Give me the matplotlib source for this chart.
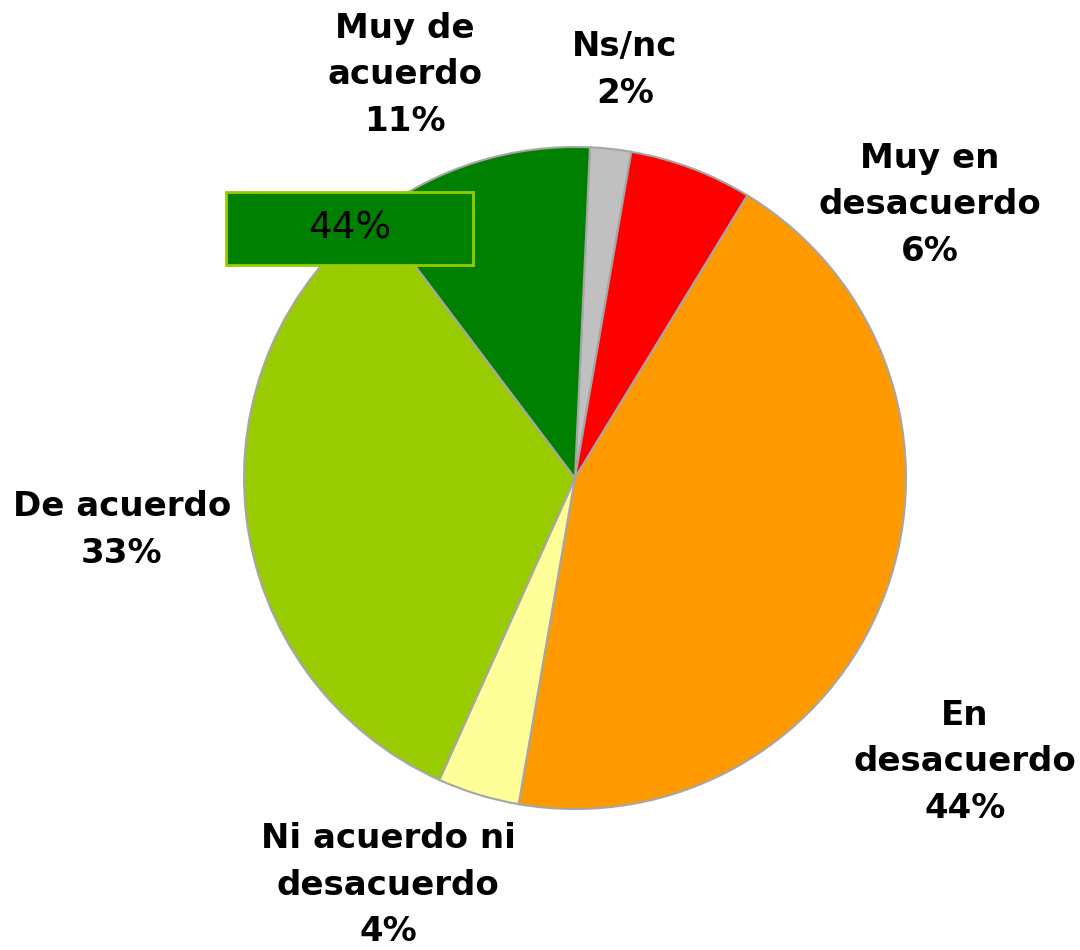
import matplotlib
matplotlib.use("Agg")
import matplotlib.pyplot as plt
from matplotlib.patches import Rectangle

# data, clockwise from the top
categories = ["Ns/nc", "Muy en\ndesacuerdo", "En\ndesacuerdo",
              "Ni acuerdo ni\ndesacuerdo", "De acuerdo", "Muy de\nacuerdo"]
values = [2, 6, 44, 4, 33, 11]
colors = ["#C0C0C0", "#FF0000", "#FF9900", "#FFFF99", "#99CC00", "#008000"]
stray_label = "44%"

# label positions, in units of the pie radius from the centre
label_pos = [(0.151, 1.233), (1.073, 0.825), (1.178, -0.858),
             (-0.565, -1.230), (-1.369, -0.157), (-0.514, 1.218)]

W, H = 1080, 950
cx, cy, r = 575, 472, 331

fig = plt.figure(figsize=(W / 100, H / 100), dpi=100)
ax = fig.add_axes([(cx - r) / W, (cy - r) / H, 2 * r / W, 2 * r / H])

ax.pie(values, colors=colors, startangle=87.4, counterclock=False,
       radius=1, wedgeprops=dict(edgecolor="#A6A6A6", linewidth=1.5))
ax.set_xlim(-1, 1)
ax.set_ylim(-1, 1)
ax.set_aspect("equal")
ax.axis("off")

for cat, val, (x, y) in zip(categories, values, label_pos):
    ax.text(x, y, f"{cat}\n{val}%", ha="center", va="center",
            fontsize=24.5, fontweight="bold", family="DejaVu Sans",
            linespacing=1.52, clip_on=False)

# the leftover data label box sitting on top of the pie
bx, by, bw, bh = -0.681, 0.754, 247 / r, 73 / r
ax.add_patch(Rectangle((bx - bw / 2, by - bh / 2), bw, bh,
                       facecolor="#008000", edgecolor="#99CC00",
                       linewidth=2, clip_on=False, zorder=5))
ax.text(bx, by, stray_label, ha="center", va="center", fontsize=27,
        color="black", family="DejaVu Sans", fontweight="medium", zorder=6)

fig.savefig("out.png", dpi=100)
